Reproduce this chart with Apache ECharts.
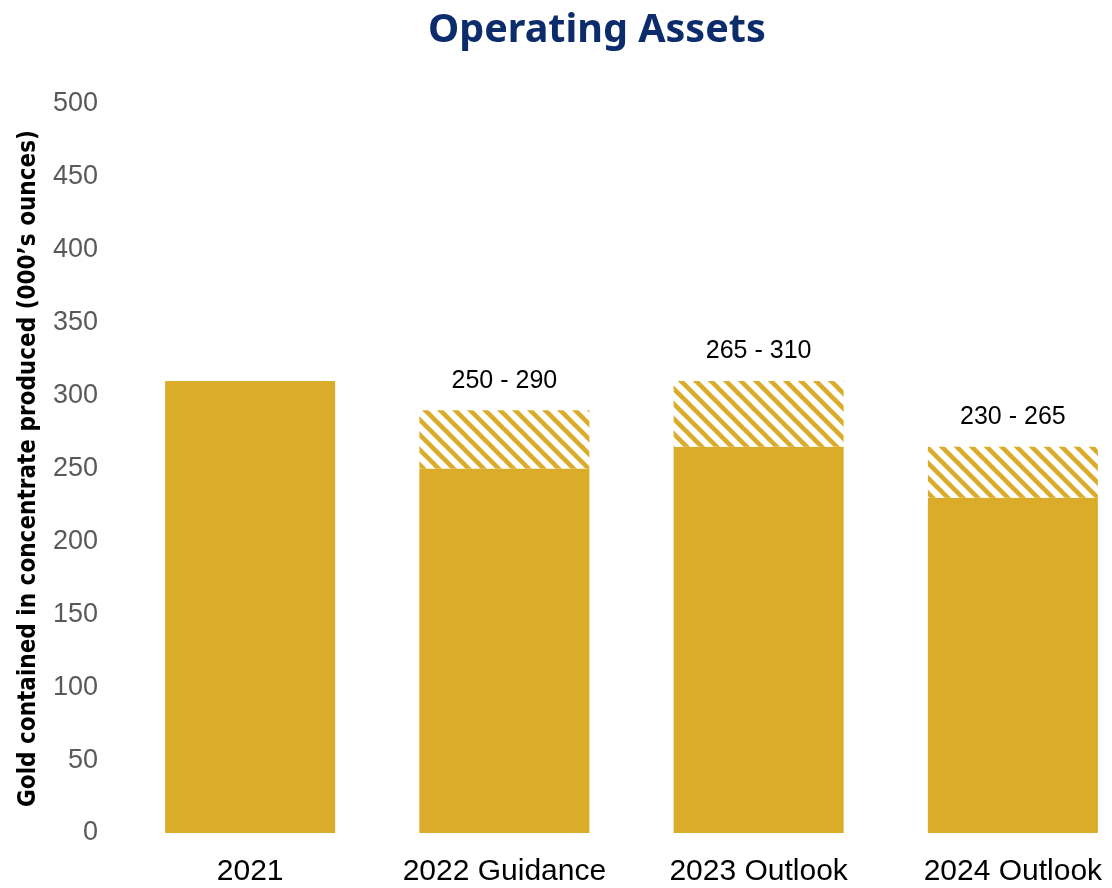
<!DOCTYPE html>
<html>
<head>
<meta charset="utf-8">
<style>
  html, body { margin: 0; padding: 0; background: #ffffff; overflow: hidden; }
  #chart { width: 1150px; height: 888px; }
</style>
<script src="https://cdn.jsdelivr.net/npm/echarts@6/dist/echarts.min.js"></script>
</head>
<body>
<div id="chart"></div>
<script>
// ---- Data ----
const categories = ['2021', '2022 Guidance', '2023 Outlook', '2024 Outlook'];
const lowValues  = [310, 250, 265, 230];      // solid part (actual / low end of range)
const highValues = [null, 290, 310, 265];     // high end of range (hatched)
const yTicks = [0, 50, 100, 150, 200, 250, 300, 350, 400, 450, 500];

const GOLD = '#DBAC29';

// hatched pattern ("\" diagonal stripes)
function makeHatch() {
  const s = 15;
  const c = document.createElement('canvas');
  c.width = s; c.height = s;
  const ctx = c.getContext('2d');
  ctx.fillStyle = '#ffffff';
  ctx.fillRect(0, 0, s, s);
  ctx.strokeStyle = GOLD;
  ctx.lineWidth = 4.5;
  for (let k = -1; k <= 1; k++) {
    ctx.beginPath();
    ctx.moveTo(-s, -s + k * s);
    ctx.lineTo(2 * s, 2 * s + k * s);
    ctx.stroke();
  }
  return c;
}

const rangeValues = highValues.map((h, i) => h == null ? null : h - lowValues[i]);

const chart = echarts.init(document.getElementById('chart'), null, { renderer: 'canvas' });
chart.setOption({
  animation: false,
  backgroundColor: '#ffffff',
  title: {
    text: 'Operating Assets',
    left: 423,
    top: 6,
    textStyle: {
      fontFamily: '"Noto Sans", sans-serif',
      fontWeight: 'bold',
      fontSize: 39.5,
      color: '#0D2C6C'
    }
  },
  grid: { left: 123, top: 104, width: 1017, height: 729, containLabel: false },
  xAxis: {
    type: 'category',
    data: categories,
    axisLine: { show: false },
    axisTick: { show: false },
    axisLabel: {
      interval: 0,
      hideOverlap: false,
      color: '#000000',
      fontSize: 30,
      fontFamily: '"Liberation Sans", Arial, sans-serif',
      margin: 24
    }
  },
  yAxis: {
    type: 'value',
    min: yTicks[0],
    max: yTicks[yTicks.length - 1],
    interval: yTicks[1] - yTicks[0],
    name: 'Gold contained in concentrate produced (000\u2019s ounces)',
    nameLocation: 'middle',
    nameGap: 82,
    nameRotate: 90,
    nameTextStyle: {
      fontFamily: '"DejaVu Sans Condensed", "DejaVu Sans", sans-serif',
      fontWeight: 'bold',
      fontSize: 24,
      color: '#000000'
    },
    axisLine: { show: false },
    axisTick: { show: false },
    splitLine: { show: false },
    axisLabel: {
      color: '#595959',
      fontSize: 27,
      fontFamily: '"Liberation Sans", Arial, sans-serif',
      margin: 25
    }
  },
  series: [
    {
      name: 'low',
      type: 'bar',
      stack: 'total',
      barWidth: 170,
      data: lowValues,
      itemStyle: { color: GOLD },
      silent: true
    },
    {
      name: 'range',
      type: 'bar',
      stack: 'total',
      barWidth: 170,
      data: rangeValues,
      itemStyle: { color: { image: makeHatch(), repeat: 'repeat' } },
      label: {
        show: true,
        position: 'top',
        distance: 17,
        color: '#000000',
        fontSize: 25,
        fontFamily: '"Liberation Sans", Arial, sans-serif',
        formatter: function (p) {
          return lowValues[p.dataIndex] + ' - ' + highValues[p.dataIndex];
        }
      },
      silent: true
    }
  ]
});
</script>
</body>
</html>
